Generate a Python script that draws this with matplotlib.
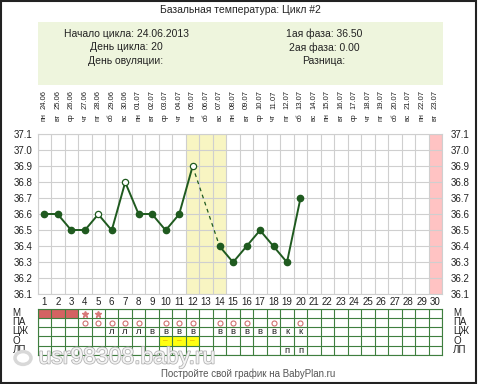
import numpy as np
import matplotlib
matplotlib.use("Agg")
import matplotlib.pyplot as plt
import matplotlib.patches as patches
import matplotlib.patheffects as pe

plt.rcParams['font.family'] = ['Liberation Sans', 'DejaVu Sans']

W, H = 480, 384

# ---- data ----
days = list(range(1, 31))
dates = ['24.06', '25.06', '26.06', '27.06', '28.06', '29.06', '30.06',
         '01.07', '02.07', '03.07', '04.07', '05.07', '06.07', '07.07',
         '08.07', '09.07', '10.07', '11.07', '12.07', '13.07', '14.07',
         '15.07', '16.07', '17.07', '18.07', '19.07', '20.07', '21.07',
         '22.07', '23.07']
weekdays = ['пн', 'вт', 'ср', 'чт', 'пт', 'сб', 'вс'] * 4 + ['пн', 'вт']

temp_days = [1, 2, 3, 4, 5, 6, 7, 8, 9, 10, 11, 12, 14, 15, 16, 17, 18, 19, 20]
temps = [36.6, 36.6, 36.5, 36.5, 36.6, 36.5, 36.8, 36.6, 36.6, 36.5, 36.6, 36.9,
         36.4, 36.3, 36.4, 36.5, 36.4, 36.3, 36.7]
open_days = [5, 7, 12]
shade_days = [12, 13, 14]
pink_days = [30]

row_labels = ['М', 'ПА', 'ЦЖ', 'О', 'ЛП']
menses_days = [1, 2, 3]
star_days = [4, 5]
pa_days = [4, 5, 6, 7, 8, 10, 11, 12, 14, 15, 16, 18, 20]
cm_days = [6, 7, 8, 9, 10, 11, 12, 14, 15, 16, 17, 18, 19, 20]
cm_marks = ['л', 'л', 'л', 'в', 'в', 'в', 'в', 'в', 'в', 'в', 'в', 'в', 'к', 'к']
ovul_days = [10, 11, 12]
lp_days = [19, 20]

info_left = ['Начало цикла: 24.06.2013', 'День цикла: 20', 'День овуляции:']
info_right = ['1ая фаза: 36.50', '2ая фаза: 0.00', 'Разница:']

GREEN = '#1f5a1f'
GRID = '#cfcfcf'
TGRID = '#3f7f3f'


def px_rect(x0, y0, x1, y1):
    return [x0 / W, 1 - y1 / H, (x1 - x0) / W, (y1 - y0) / H]


fig = plt.figure(figsize=(4.8, 3.84), dpi=100)

# frame + info box
fig.patches.append(patches.Rectangle((1 / W, 1 - 382.5 / H), 474.5 / W, 381.5 / H,
                                     transform=fig.transFigure, fill=False,
                                     edgecolor='#222222', lw=1.5))
fig.patches.append(patches.Rectangle((38 / W, 1 - 85 / H), 405 / W, 63 / H,
                                     transform=fig.transFigure,
                                     facecolor='#eef5dd', edgecolor='none'))
fig.text(240 / W, 1 - 10 / H, 'Базальная температура: Цикл #2', ha='center',
         va='center', fontsize=7.5, color='#222222')
for i, s in enumerate(info_left):
    fig.text(126 / W, 1 - (34 + 13.5 * i) / H, s, ha='center', va='center',
             fontsize=7.5, color='#222222')
for i, s in enumerate(info_right):
    fig.text(324 / W, 1 - (34 + 13.5 * i) / H, s, ha='center', va='center',
             fontsize=7.5, color='#222222')

# ---- temperature chart ----
ax = fig.add_axes(px_rect(37.6, 134.3, 442, 294.3))
ax.set_xlim(0.5, 30.5)
ax.set_ylim(36.1, 37.1)
for d in shade_days:
    ax.axvspan(d - 0.5, d + 0.5, color='#f8f5c2', lw=0, zorder=0)
for d in pink_days:
    ax.axvspan(d - 0.5, d + 0.5, color='#ffc3c3', lw=0, zorder=0)

yt = np.round(np.arange(36.1, 37.15, 0.1), 1)
ax.set_yticks(yt)
ax.set_yticklabels(['%.1f' % v for v in yt], fontsize=7, color='#222222')
ax.set_xticks(days)
ax.set_xticklabels([str(d) for d in days], fontsize=7, color='#222222')
ax.set_xticks(np.arange(0.5, 31, 1), minor=True)
ax.tick_params(axis='both', which='both', length=0)
ax.tick_params(axis='x', pad=2)
ax.tick_params(axis='y', pad=3.5)
ax.grid(which='minor', axis='x', color=GRID, lw=0.8, zorder=1)
ax.grid(which='major', axis='y', color=GRID, lw=0.8, zorder=1)
for sp in ax.spines.values():
    sp.set_color(GRID)
    sp.set_linewidth(0.8)

axr = ax.twinx()
axr.set_ylim(36.1, 37.1)
axr.set_yticks(yt)
axr.set_yticklabels(['%.1f' % v for v in yt], fontsize=7, color='#222222')
axr.tick_params(length=0, pad=6)
for sp in axr.spines.values():
    sp.set_visible(False)

# line: solid for consecutive days, dashed across gaps
for i in range(len(temp_days) - 1):
    x = temp_days[i:i + 2]
    y = temps[i:i + 2]
    if x[1] - x[0] == 1:
        ax.plot(x, y, color=GREEN, lw=1.4, zorder=3)
    else:
        ax.plot(x, y, color=GREEN, lw=0.9, ls=(0, (3, 3)), zorder=3)
for d, t in zip(temp_days, temps):
    if d in open_days:
        ax.plot(d, t, 'o', ms=4.5, mfc='white', mec=GREEN, mew=0.9, zorder=4)
    else:
        ax.plot(d, t, 'o', ms=4.5, mfc=GREEN, mec=GREEN, zorder=4)

# top date / weekday labels
for d, ds, wd in zip(days, dates, weekdays):
    ax.annotate(ds, xy=(d, 1), xycoords=('data', 'axes fraction'),
                xytext=(0, 25 * 0.72), textcoords='offset points', rotation=90,
                ha='center', va='bottom', fontsize=5.5, color='#222222')
    ax.annotate(wd, xy=(d, 1), xycoords=('data', 'axes fraction'),
                xytext=(0, 13 * 0.72), textcoords='offset points', rotation=90,
                ha='center', va='bottom', fontsize=5.2, color='#222222')

# ---- table ----
at = fig.add_axes(px_rect(37.6, 308.7, 442, 355))
at.set_xlim(0.5, 30.5)
at.set_ylim(5, 0)
at.set_xticks(np.arange(0.5, 31, 1))
at.set_yticks(np.arange(0, 6, 1))
at.set_xticklabels([])
at.set_yticklabels([])
at.tick_params(length=0)
at.grid(True, color=TGRID, lw=0.8)
for sp in at.spines.values():
    sp.set_color(TGRID)
    sp.set_linewidth(0.8)

at.bar(menses_days, 1, bottom=0, width=1, color='#d46262', zorder=0)
at.bar(ovul_days, 1, bottom=3, width=1, color='#ffff10', zorder=0)
at.plot(star_days, [0.55] * len(star_days), '*', ls='', ms=5, color='#d87a7a')
at.plot(pa_days, [1.5] * len(pa_days), 'o', ls='', ms=3.6, mfc='none',
        mec='#d07070', mew=0.8)
for d, m in zip(cm_days, cm_marks):
    at.text(d, 2.5, m, ha='center', va='center', fontsize=6.8, color='#222222')
for d in ovul_days:
    at.text(d, 3.5, '–', ha='center', va='center', fontsize=6, color='#e09a00')
for d in lp_days:
    at.text(d, 4.5, 'п', ha='center', va='center', fontsize=6.8, color='#222222')

for i, lab in enumerate(row_labels):
    at.annotate(lab, xy=(0, i + 0.45), xycoords=('axes fraction', 'data'),
                xytext=(-25 * 0.72, 0), textcoords='offset points',
                ha='left', va='center', fontsize=7, color='#222222')
    at.annotate(lab, xy=(1, i + 0.45), xycoords=('axes fraction', 'data'),
                xytext=(11 * 0.72, 0), textcoords='offset points',
                ha='left', va='center', fontsize=7, color='#222222')

# watermark + footer
fig.patches.append(patches.Circle((23 / W, 1 - 358 / H), 8 / W,
                                  transform=fig.transFigure, fill=False,
                                  edgecolor='#d8d8d8', lw=2.5))
fig.text(127 / W, 1 - 357 / H, 'usr98308.baby.ru', ha='center', va='center',
         fontsize=16.5, color='#f4f4f4',
         path_effects=[pe.withStroke(linewidth=1.2, foreground='#b4b4b4')])
fig.text(248 / W, 1 - 373.5 / H, 'Постройте свой график на BabyPlan.ru',
         ha='center', va='center', fontsize=7, color='#555555')

fig.savefig('out.png', dpi=100)
